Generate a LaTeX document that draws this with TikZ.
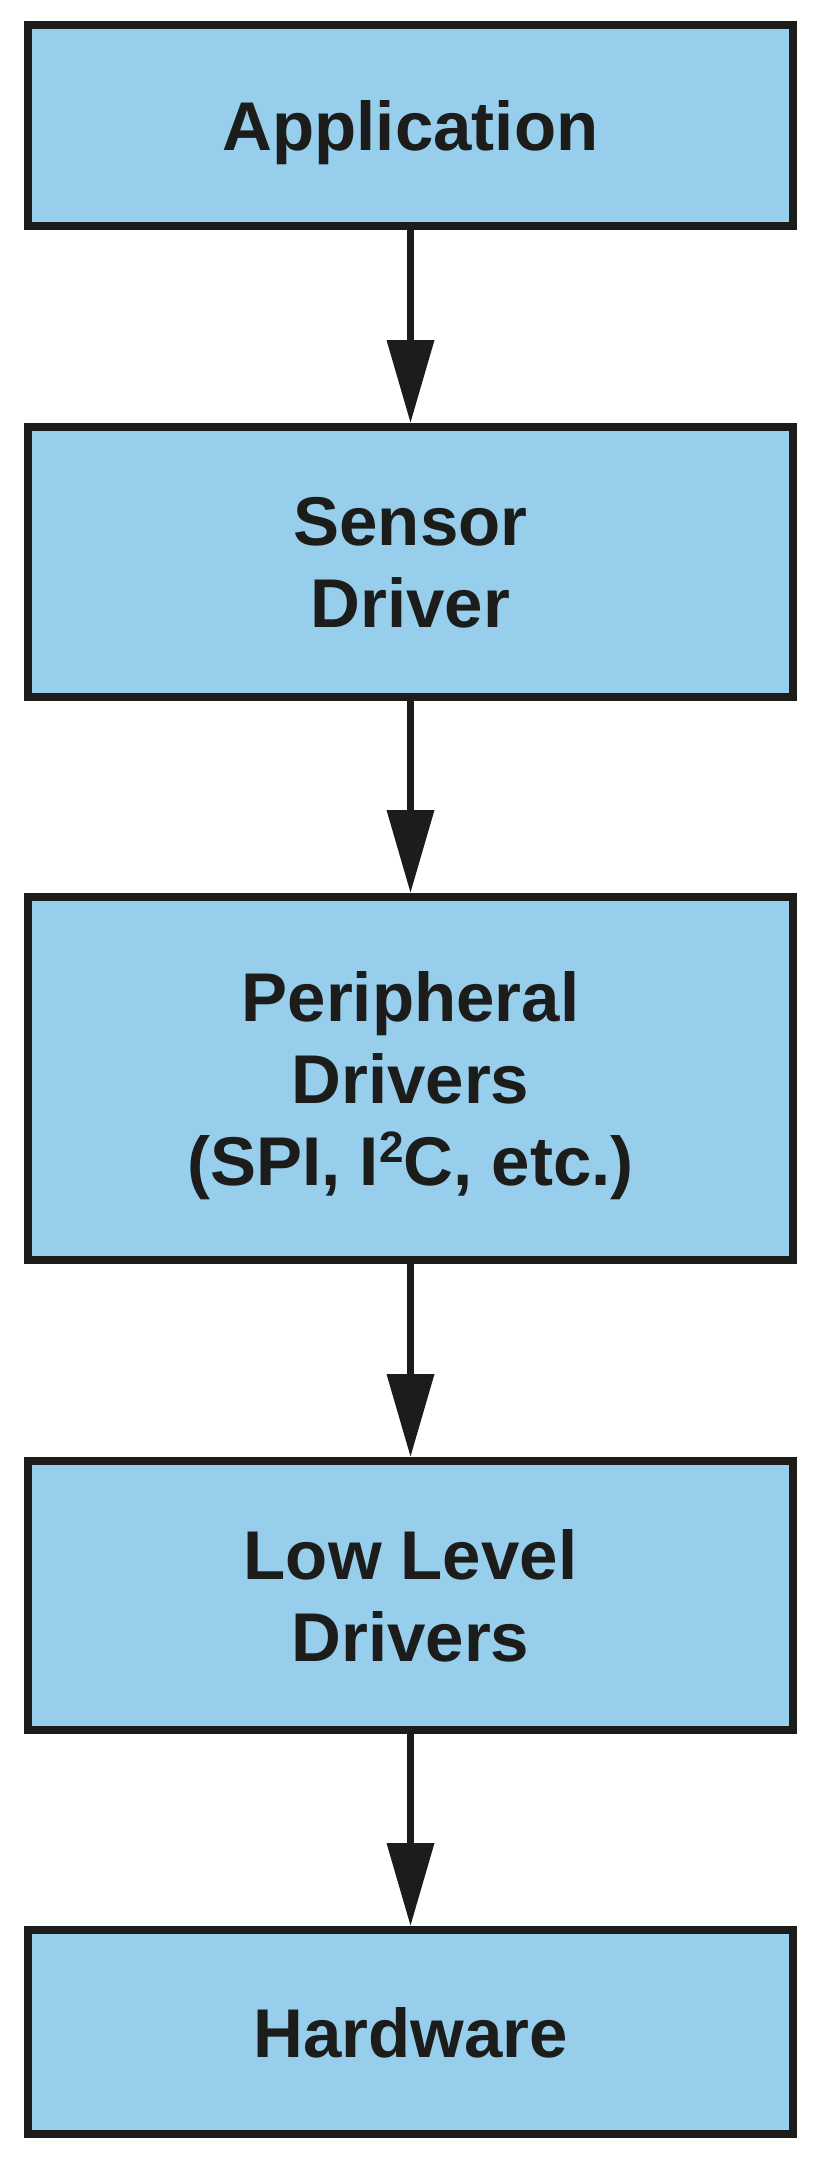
\documentclass[tikz,border=0pt]{standalone}
\usepackage{fontspec}
\setmainfont{Liberation Sans}
\usetikzlibrary{arrows.meta}
\definecolor{boxfill}{RGB}{150,206,236}
\definecolor{ink}{RGB}{28,28,27}
\tikzset{
  layerbox/.style={draw=ink, fill=boxfill, line width=8pt, outer sep=0pt,
    minimum width=765pt, inner sep=0pt, align=center, text=ink, text depth=0pt,
    font=\fontsize{69}{82}\selectfont\bfseries},
  flowarrow/.style={draw=ink, line width=7pt,
    -{Triangle[length=83pt,width=46pt]}, shorten >=4pt}
}
\begin{document}
\begin{tikzpicture}[x=1pt,y=-1pt]
  \fill[white] (0,0) rectangle (827,2164);
  \useasboundingbox (0,0) rectangle (827,2164);
  \node[layerbox, minimum height=201pt] (app) at (410.5,125) {Application};
  \node[layerbox, minimum height=270pt] (sensor) at (410.5,562) {Sensor\\Driver};
  \node[layerbox, minimum height=363pt] (periph) at (410.5,1078.5)
    {Peripheral\\Drivers\\(SPI, I\raisebox{0.62ex}{\fontsize{44}{44}\selectfont 2}C, etc.)};
  \node[layerbox, minimum height=269pt] (low) at (410.5,1595.5) {Low Level\\Drivers};
  \node[layerbox, minimum height=204pt] (hw) at (410.5,2032) {Hardware};
  \draw[flowarrow] (app.south) -- (sensor.north);
  \draw[flowarrow] (sensor.south) -- (periph.north);
  \draw[flowarrow] (periph.south) -- (low.north);
  \draw[flowarrow] (low.south) -- (hw.north);
\end{tikzpicture}
\end{document}
